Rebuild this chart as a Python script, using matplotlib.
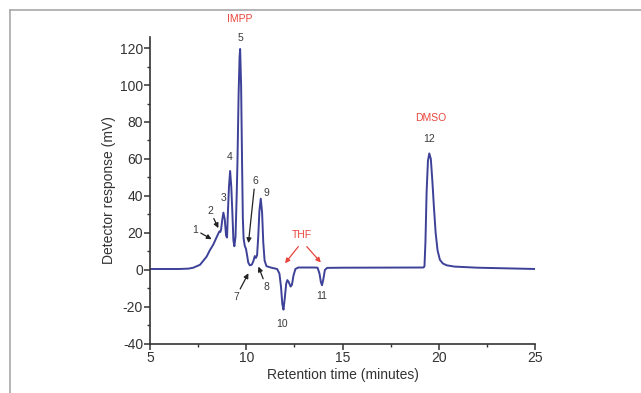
import matplotlib
matplotlib.use("Agg")
import matplotlib.pyplot as plt
from matplotlib.lines import Line2D

# Trace (retention time in min, response in mV)
retention_time = [
    5.0, 6.5, 7.0, 7.25, 7.6, 7.94, 8.1, 8.29, 8.45, 8.6, 8.65, 8.69, 8.75, 8.81,
    8.88, 8.95, 9.0, 9.04, 9.1, 9.16, 9.22, 9.28, 9.33, 9.38, 9.44, 9.5, 9.54,
    9.6, 9.65, 9.68, 9.73, 9.78, 9.82, 9.86, 9.92, 9.98, 10.04, 10.1, 10.18,
    10.28, 10.36, 10.44, 10.5, 10.56, 10.62, 10.68, 10.75, 10.82, 10.88, 10.95,
    11.05, 11.3, 11.6, 11.72, 11.8, 11.87, 11.93, 12.0, 12.07, 12.13, 12.2,
    12.3, 12.37, 12.45, 12.55, 12.7, 13.5, 13.7, 13.8, 13.87, 13.93, 14.0,
    14.08, 14.2, 15.0, 19.2, 19.25, 19.3, 19.36, 19.43, 19.5, 19.58, 19.66,
    19.74, 19.83, 19.93, 20.05, 20.2, 20.4, 20.8, 22.0, 25.0,
]
response = [
    0.5, 0.5, 0.7, 1.2, 2.8, 7.2, 10.5, 13.8, 17.5, 20.8, 20.5, 21.8, 27.0, 31.0,
    27.5, 18.5, 17.5, 30.0, 45.0, 53.5, 45.0, 30.0, 16.0, 12.8, 18.0, 40.0, 58.0,
    95.0, 115.0, 119.5, 100.0, 58.0, 28.0, 17.0, 13.0, 11.5, 8.0, 4.0, 2.5,
    2.8, 4.5, 7.5, 6.5, 8.0, 18.0, 32.0, 38.5, 31.0, 15.0, 5.0,
    2.0, 1.2, 0.5, -2.0, -9.0, -18.5, -21.5, -15.0, -7.5, -5.5, -6.5,
    -9.0, -8.0, -3.0, 0.5, 1.3, 1.3, 1.2, -2.0, -6.5, -8.3, -5.0,
    0.0, 1.1, 1.2, 1.3, 2.0, 15.0, 42.0, 59.0, 63.0, 60.0, 48.0,
    34.0, 20.0, 10.5, 5.5, 3.5, 2.5, 1.8, 1.2, 0.5,
]

peak_labels = ["1", "2", "3", "4", "5", "6", "7", "8", "9", "10", "11", "12"]
compound_labels = ["IMPP", "THF", "DMSO"]

line_color = "#3d4198"
red = "#e8453c"
txt = "#3a3a3a"
plt.rcParams["font.family"] = ["Liberation Sans", "DejaVu Sans"]
plt.rcParams["axes.unicode_minus"] = False

fig = plt.figure(figsize=(6.41, 3.93), dpi=100)
ax = fig.add_axes([0.234, 0.125, 0.601, 0.781])

ax.plot(retention_time, response, color=line_color, lw=1.4)

ax.set_xlim(5, 25)
ax.set_ylim(-40, 126)
ax.set_xticks([5, 10, 15, 20, 25])
ax.set_xticks([7.5, 12.5, 17.5, 22.5], minor=True)
ax.set_yticks(range(-40, 121, 20))
ax.set_yticks(range(-30, 121, 20), minor=True)
ax.spines["top"].set_visible(False)
ax.spines["right"].set_visible(False)
for s in ("left", "bottom"):
    ax.spines[s].set_linewidth(1.2)
    ax.spines[s].set_color("#333333")
ax.tick_params(which="major", direction="out", length=4, width=1.1,
               labelsize=10, colors="#333333", pad=1)
ax.tick_params(which="minor", direction="out", length=2.5, width=1.0,
               colors="#333333")
ax.set_xlabel("Retention time (minutes)", fontsize=10, color="#333333", labelpad=2)
ax.set_ylabel("Detector response (mV)", fontsize=10, color="#333333", labelpad=3)

# peak numbers
fs = 7.5
ax.text(9.68, 125.5, peak_labels[4], ha="center", va="center", fontsize=fs, color=txt, clip_on=False)
ax.text(9.16, 61, peak_labels[3], ha="center", va="center", fontsize=fs, color=txt)
ax.text(8.81, 38.9, peak_labels[2], ha="center", va="center", fontsize=fs, color=txt)
ax.text(11.03, 41.6, peak_labels[8], ha="center", va="center", fontsize=fs, color=txt)
ax.text(11.87, -29.3, peak_labels[9], ha="center", va="center", fontsize=fs, color=txt)
ax.text(13.92, -14.1, peak_labels[10], ha="center", va="center", fontsize=fs, color=txt)
ax.text(19.5, 71, peak_labels[11], ha="center", va="center", fontsize=fs, color=txt)

arrow = dict(arrowstyle="-|>", color="#222222", lw=0.9, mutation_scale=7,
             shrinkA=0, shrinkB=0)
ax.annotate(peak_labels[0], xy=(8.2, 16.6), xytext=(7.34, 21.7), fontsize=fs,
            color=txt, ha="center", va="center", arrowprops=arrow)
ax.annotate(peak_labels[1], xy=(8.55, 22.6), xytext=(8.12, 32), fontsize=fs,
            color=txt, ha="center", va="center", arrowprops=arrow)
ax.annotate(peak_labels[5], xy=(10.11, 14.5), xytext=(10.45, 47.9), fontsize=fs,
            color=txt, ha="center", va="center", arrowprops=arrow)
ax.annotate(peak_labels[6], xy=(10.11, -1.8), xytext=(9.47, -14.5), fontsize=fs,
            color=txt, ha="center", va="center", arrowprops=arrow)
ax.annotate(peak_labels[7], xy=(10.63, 1.8), xytext=(11.03, -9.0), fontsize=fs,
            color=txt, ha="center", va="center", arrowprops=arrow)

# compound names
ax.text(9.68, 135.6, compound_labels[0], ha="center", va="center", fontsize=fs,
        color=red, clip_on=False)
ax.text(19.55, 82.4, compound_labels[2], ha="center", va="center", fontsize=fs, color=red)
ax.text(12.88, 19, compound_labels[1], ha="center", va="center", fontsize=fs, color=red)
red_arrow = dict(arrowstyle="-|>", color=red, lw=0.9, mutation_scale=7,
                 shrinkA=0, shrinkB=0)
ax.annotate("", xy=(12.01, 3.6), xytext=(12.7, 12.6), arrowprops=red_arrow)
ax.annotate("", xy=(13.87, 4.0), xytext=(13.14, 12.6), arrowprops=red_arrow)

# light frame around the figure (top and left edges)
fig.add_artist(Line2D([10 / 641, 1], [1 - 10 / 393] * 2, color="#a8a8a8", lw=1.2))
fig.add_artist(Line2D([10 / 641] * 2, [0, 1 - 10 / 393], color="#a8a8a8", lw=1.2))

fig.savefig("out.png", dpi=100)
